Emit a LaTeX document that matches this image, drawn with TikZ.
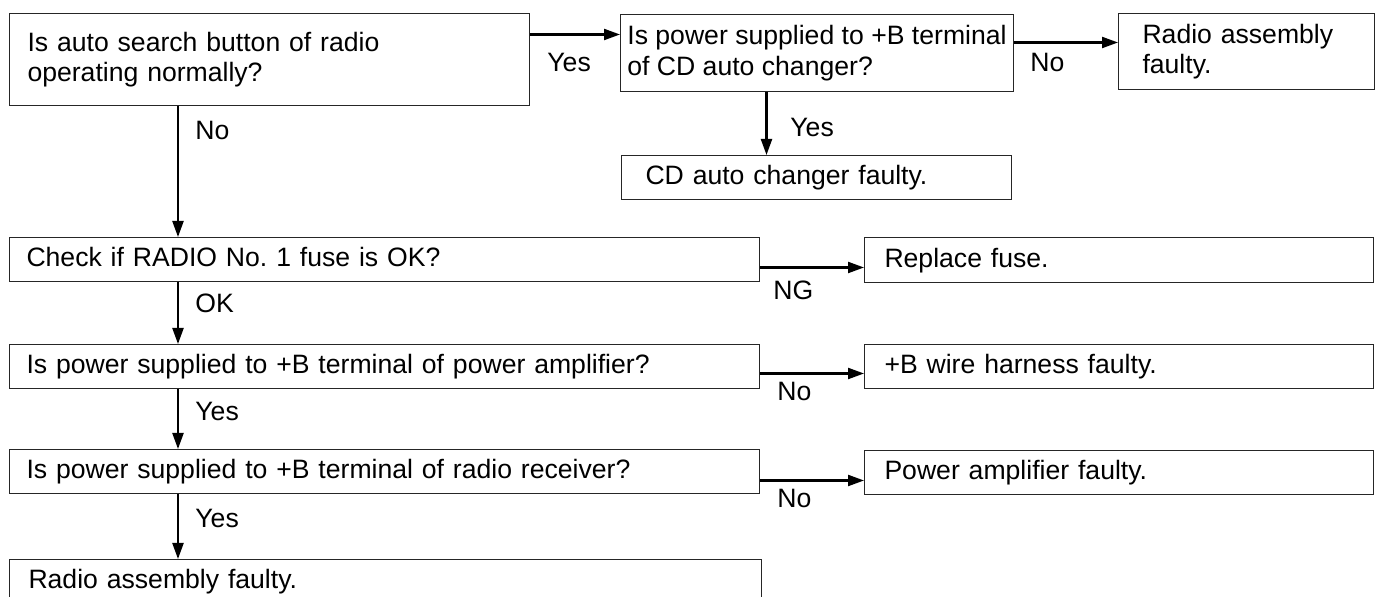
\documentclass[tikz,border=0pt]{standalone}
\usepackage{fontspec}
\setmainfont{Liberation Sans}
\usepackage{tikz}
\usetikzlibrary{arrows.meta}

\newcommand{\flowfont}{\fontsize{13.3}{15.2}\selectfont}
\frenchspacing

\tikzset{
    fbox/.style={draw=black!85, line width=0.5pt, anchor=north west, align=left,
        inner ysep=0pt, font=\flowfont},
    onebox/.style={fbox, text height=9.8pt, text depth=2.7pt},
    arr/.style={line width=1.1pt, -{Triangle[length=8pt, width=5.5pt]}},
    lbl/.style={font=\flowfont, anchor=base west, inner sep=0pt}
}

\begin{document}
\begin{tikzpicture}[x=0.5pt, y=-0.5pt]
    \useasboundingbox (0,0) rectangle (1378,597);

    % Top row
    \node[fbox, text width=242pt, inner xsep=9pt, minimum height=46pt] (auto) at (9,13)
        {Is auto search button of radio\\operating normally?};
    \node[fbox, minimum width=196.5pt, inner xsep=0pt, minimum height=38.5pt] (pwrcd) at (620,14)
        {Is power supplied to +B terminal\\of CD auto changer?};
    \node[fbox, text width=104pt, inner xsep=12pt, minimum height=38pt] (radfl) at (1118,13)
        {Radio assembly\\faulty.};
    \node[onebox, text width=171pt, inner xsep=12pt, minimum height=22pt] (cdfl) at (621,155)
        {CD auto changer faulty.};

    % Left column
    \node[onebox, text width=358pt, inner xsep=8.5pt, minimum height=22pt] (check) at (9,237)
        {Check if RADIO No. 1 fuse is OK?};
    \node[onebox, text width=358pt, inner xsep=8.5pt, minimum height=22pt] (amp) at (9,344)
        {Is power supplied to +B terminal of power amplifier?};
    \node[onebox, text width=358pt, inner xsep=8.5pt, minimum height=22pt] (recv) at (9,449)
        {Is power supplied to +B terminal of radio receiver?};
    \node[onebox, text width=357pt, inner xsep=9.5pt, minimum height=22pt] (radfl2) at (9,559)
        {Radio assembly faulty.};

    % Right column
    \node[onebox, text width=234.5pt, inner xsep=10pt, minimum height=22.5pt] (fuse) at (864,237)
        {Replace fuse.};
    \node[onebox, text width=234.5pt, inner xsep=10pt, minimum height=22pt] (harn) at (864,344)
        {+B wire harness faulty.};
    \node[onebox, text width=234.5pt, inner xsep=10pt, minimum height=22pt] (ampfl) at (864,450)
        {Power amplifier faulty.};

    % Connectors
    \draw[arr] ([yshift=12.5pt]auto.east) coordinate (ya) -- (ya -| pwrcd.west);
    \draw[arr] ([yshift=5.25pt]pwrcd.east) coordinate (yb) -- (yb -| radfl.west);
    \draw[arr] ([xshift=-25.25pt]pwrcd.south) coordinate (yc) -- (yc |- cdfl.north);
    \draw[arr] ([xshift=84.5pt]auto.south west) coordinate (yd) -- (yd |- check.north);
    \draw[arr] ([yshift=-4pt]check.east) coordinate (ye) -- (ye -| fuse.west);
    \draw[arr] ([xshift=84.5pt]check.south west) coordinate (yf) -- (yf |- amp.north);
    \draw[arr] ([yshift=-3.5pt]amp.east) coordinate (yg) -- (yg -| harn.west);
    \draw[arr] ([xshift=84.5pt]amp.south west) coordinate (yh) -- (yh |- recv.north);
    \draw[arr] ([yshift=-4.5pt]recv.east) coordinate (yi) -- (yi -| ampfl.west);
    \draw[arr] ([xshift=84.5pt]recv.south west) coordinate (yj) -- (yj |- radfl2.north);

    % Labels
    \node[lbl] (yes1) at (547,72) {Yes};
    \node[lbl] (no1) at (1030,72) {No};
    \node[lbl] (yes2) at (790,137) {Yes};
    \node[lbl] (no2) at (195,140) {No};
    \node[lbl] (ok) at (195,313) {OK};
    \node[lbl] (ng) at (773,300) {NG};
    \node[lbl] (no3) at (777,401) {No};
    \node[lbl] (yes3) at (195,421) {Yes};
    \node[lbl] (no4) at (777,508) {No};
    \node[lbl] (yes4) at (195,528) {Yes};
\end{tikzpicture}
\end{document}
